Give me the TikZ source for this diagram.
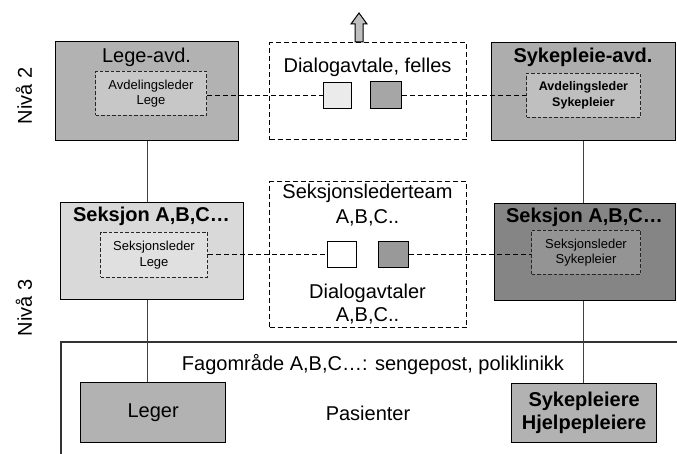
\documentclass[tikz,border=0pt]{standalone}
\usepackage{fontspec}
\setmainfont{Liberation Sans}
\usetikzlibrary{positioning}
\begin{document}
\begin{tikzpicture}[x=1pt,y=-1pt,
  big/.style={font=\fontsize{20}{23}\selectfont},
  bigb/.style={font=\fontsize{20}{23}\selectfont\bfseries},
  small/.style={font=\fontsize{13}{15.5}\selectfont, align=center},
  smallb/.style={font=\fontsize{12.5}{15.5}\selectfont\bfseries, align=center},
  unit/.style={draw=black, line width=1.2pt, inner sep=0pt, anchor=north west},
  leader/.style={draw=black!85, dashed, dash pattern=on 3.5pt off 2pt, line width=1pt, inner sep=0pt, anchor=north west},
  dialog/.style={draw=black, dashed, dash pattern=on 5pt off 3pt, line width=1.1pt, inner sep=0pt, anchor=north west},
  sq/.style={draw=black, line width=1.1pt, inner sep=0pt, anchor=north west},
  link/.style={draw=black, dashed, dash pattern=on 5pt off 3pt, line width=1pt},
  tie/.style={draw=black!75, line width=1pt}
]
\useasboundingbox (0,0) rectangle (677,454);

% level labels
\node[big, rotate=90] (n2) at (24,96) {Nivå 2};
\node[big, rotate=90] (n3) at (24,308) {Nivå 3};

% level 2 departments
\node[unit, fill=black!30, minimum width=183pt, minimum height=99pt] (lege) at (55,41) {};
\node[big] (legeT) at (146.5,57) {Lege-avd.};
\node[leader, fill=black!22, minimum width=111pt, minimum height=44pt] (legeL) at (95,71) {};
\node[small] at (legeL.center) {Avdelingsleder\\Lege};

\node[unit, fill=black!32, minimum width=184pt, minimum height=98pt] (syk) at (491,42) {};
\node[bigb] (sykT) at (583,57) {Sykepleie-avd.};
\node[leader, fill=black!25, minimum width=114pt, minimum height=44pt] (sykL) at (526,73) {};
\node[smallb] at (sykL.center) {Avdelingsleder\\Sykepleier};

% joint dialogue
\node[dialog, minimum width=197pt, minimum height=97pt] (felles) at (269,42) {};
\node[big] at (367.5,67) {Dialogavtale, felles};
\node[sq, fill=black!8, minimum width=28pt, minimum height=26pt] (fa) at (323,82) {};
\node[sq, fill=black!35, minimum width=31pt, minimum height=27pt] (fb) at (370,81) {};
\coordinate (up) at (felles.north -| 359,0);
\draw[black, line width=1pt, fill=black!25]
  (up) ++(-4,0) -- ++(0,-18) -- ++(-4,0) -- (359,13) -- (367,24) -- ++(-4,0) -- ++(0,18) -- cycle;

% level 3 sections
\node[unit, fill=black!15, minimum width=183pt, minimum height=97pt] (sekL) at (60,202) {};
\node[bigb] at (151.5,216) {Seksjon A,B,C…};
\node[leader, fill=black!12, minimum width=107pt, minimum height=45pt] (sekLL) at (100,232) {};
\node[small] at (sekLL.center) {Seksjonsleder\\Lege};

\node[unit, fill=black!48, minimum width=181pt, minimum height=97pt] (sekR) at (494,203) {};
\node[bigb] at (584.5,217) {Seksjon A,B,C…};
\node[leader, fill=black!42, minimum width=109pt, minimum height=44pt] (sekRL) at (531,230) {};
\node[small] at (sekRL.center) {Seksjonsleder\\Sykepleier};

% section team dialogue
\node[dialog, minimum width=197pt, minimum height=146pt] (team) at (269,181) {};
\node[big] at (367.5,193) {Seksjonslederteam};
\node[big] at (367.5,218) {A,B,C..};
\node[big] at (367.5,293) {Dialogavtaler};
\node[big] at (367.5,316) {A,B,C..};
\node[sq, fill=white, minimum width=29pt, minimum height=26pt] (ta) at (327,241) {};
\node[sq, fill=black!40, minimum width=30pt, minimum height=26pt] (tb) at (378,241) {};

% dialogue links
\draw[link] (legeL.east |- fa.west) -- (fa.west);
\draw[link] (fb.east) -- (sykL.west |- fb.east);
\draw[link] (sekLL.east |- ta.west) -- (ta.west);
\draw[link] (tb.east) -- (sekRL.west |- tb.east);

% clinical area
\coordinate (fc) at (61,342);
\coordinate (fr) at (677,342);
\coordinate (fb0) at (61,454);
\draw[black!80, line width=1.4pt] (fr) -- (fc) -- (fb0);
\node[big] at (373,365) {Fagområde A,B,C…: sengepost, poliklinikk};
\node[big] at (368,413) {Pasienter};
\node[unit, fill=black!30, minimum width=145pt, minimum height=60pt] (leger) at (80,382) {};
\node[big] at (leger.center) {Leger};
\node[unit, fill=black!30, minimum width=145pt, minimum height=59pt] (sp) at (511,383) {};
\node[bigb, align=center] at (sp.center) {Sykepleiere\\Hjelpepleiere};

% line connections
\draw[tie] (lege.south -| 147,0) -- (sekL.north -| 147,0);
\draw[tie] (sekL.south -| 147,0) -- (leger.north -| 147,0);
\draw[tie] (syk.south -| 583,0) -- (sekR.north -| 583,0);
\draw[tie] (sekR.south -| 583,0) -- (sp.north -| 583,0);
\end{tikzpicture}
\end{document}
